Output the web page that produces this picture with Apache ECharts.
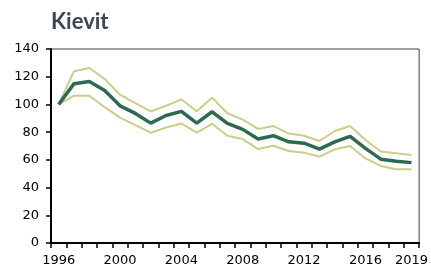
<!DOCTYPE html>
<html>
<head>
<meta charset="utf-8">
<script src="https://cdn.jsdelivr.net/npm/echarts@6/dist/echarts.min.js"></script>
<style>
  html, body { margin: 0; padding: 0; background: #fff; }
  #chart { width: 431px; height: 275px; }
</style>
</head>
<body>
<div id="chart"></div>
<script>
const years = ['1996', '1997', '1998', '1999', '2000', '2001', '2002', '2003', '2004', '2005', '2006', '2007',
  '2008', '2009', '2010', '2011', '2012', '2013', '2014', '2015', '2016', '2017', '2018', '2019'];
const middle = [100, 115, 116.5, 110, 99, 93.5, 86.5, 92, 95, 86.5, 94.7, 86.3,
  82, 75, 77.4, 73, 72, 67.8, 73, 77, 68.3, 60.5, 59, 58];
const upper = [100, 124, 126.3, 118.3, 107, 101, 95, 99, 103.7, 95, 104.9, 93.6,
  89, 82.3, 84.4, 79, 77.4, 73.6, 80.8, 84.4, 74.3, 66, 64.7, 63.5];
const lower = [100, 106.3, 106.3, 98, 90.5, 85, 79.6, 83.4, 86.3, 79.6, 86, 77.4,
  75, 67.8, 70.2, 66.4, 65.2, 62.3, 67.6, 70, 61, 55.6, 53.2, 53.2];
const yTicks = [0, 140, 20];

const chart = echarts.init(document.getElementById('chart'));

const band = (name, data) => ({
  name,
  type: 'line',
  data,
  symbol: 'none',
  lineStyle: { color: '#c8cf88', width: 2 },
  z: 2,
});

chart.setOption({
  animation: false,
  title: {
    text: 'Kievit',
    left: 46,
    top: 6,
    textStyle: { fontFamily: 'Lato', fontWeight: 'bold', fontSize: 22, color: '#3f4752' },
  },
  grid: {
    left: 51,
    right: 11,
    top: 49,
    bottom: 32,
    show: true,
    borderColor: '#444',
    borderWidth: 1,
  },
  xAxis: {
    type: 'category',
    data: years,
    boundaryGap: true,
    axisLine: { lineStyle: { color: '#000', width: 2 } },
    axisTick: { show: true, interval: 0, length: 5, lineStyle: { color: '#000', width: 1.5 } },
    axisLabel: {
      interval: (i) => i % 4 === 0 || i === years.length - 1,
      margin: 11,
      fontFamily: 'DejaVu Sans',
      fontSize: 13,
      color: '#000',
    },
  },
  yAxis: {
    type: 'value',
    min: yTicks[0],
    max: yTicks[1],
    interval: yTicks[2],
    splitLine: { show: false },
    axisLine: { show: true, lineStyle: { color: '#000', width: 2 } },
    axisTick: { show: true, length: 5, lineStyle: { color: '#000', width: 1.5 } },
    axisLabel: { margin: 12, fontFamily: 'DejaVu Sans', fontSize: 13, color: '#000' },
  },
  series: [
    band('upper', upper),
    band('lower', lower),
    {
      name: 'middle',
      type: 'line',
      data: middle,
      symbol: 'none',
      lineStyle: { color: '#2e6a50', width: 3.5 },
      z: 3,
    },
  ],
});
</script>
</body>
</html>
